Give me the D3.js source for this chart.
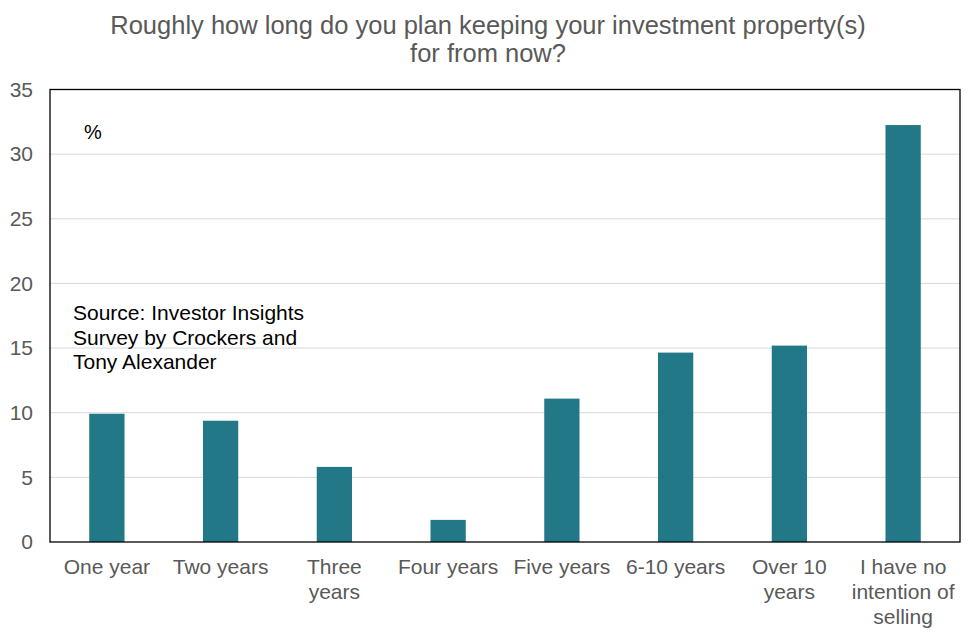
<!DOCTYPE html>
<html><head><meta charset="utf-8">
<script src="https://cdn.jsdelivr.net/npm/d3@7"></script>
<style>body{margin:0;background:#fff}svg{display:block}</style>
</head><body><svg id="c" width="976" height="637"></svg>
<script>
const categories = [["One year"],["Two years"],["Three","years"],["Four years"],["Five years"],["6-10 years"],["Over 10","years"],["I have no","intention of","selling"]];
const values = [9.92, 9.38, 5.81, 1.71, 11.09, 14.65, 15.19, 32.25];
const yTicks = [0,5,10,15,20,25,30,35];
const titleLines = ["Roughly how long do you plan keeping your investment property(s)","for from now?"];
const sourceLines = ["Source: Investor Insights","Survey by Crockers and","Tony Alexander"];

const svg = d3.select("#c");
const font = "Liberation Sans, Arial, sans-serif";
const m = {l:50, r:960, t:89.5, b:542};
const x = d3.scaleBand().domain(d3.range(values.length)).range([m.l, m.r]).paddingInner(0.69).paddingOuter(0.345);
const y = d3.scaleLinear().domain([0,35]).range([m.b, m.t]);

// gridlines
svg.append("g").selectAll("line").data(yTicks.filter(t=>t>0 && t<35)).join("line")
  .attr("x1", m.l).attr("x2", m.r).attr("y1", d=>y(d)).attr("y2", d=>y(d))
  .attr("stroke","#d9d9d9").attr("stroke-width",1);

// bars
svg.append("g").selectAll("rect").data(values).join("rect")
  .attr("x",(d,i)=>x(i)).attr("width",x.bandwidth())
  .attr("y",d=>y(d)).attr("height",d=>y(0)-y(d)).attr("fill","#227886");

// border
svg.append("rect").attr("x",m.l).attr("y",m.t).attr("width",m.r-m.l).attr("height",m.b-m.t)
  .attr("fill","none").attr("stroke","#000").attr("stroke-width",1.3);

// y axis
const ya = svg.append("g").attr("transform",`translate(${m.l},0)`)
  .call(d3.axisLeft(y).tickValues(yTicks).tickSize(0).tickPadding(17));
ya.select(".domain").remove();
ya.selectAll("text").attr("font-family",font).attr("font-size",21).attr("fill","#595959");

// x labels
const xl = svg.append("g").selectAll("text").data(categories).join("text")
  .attr("x",(d,i)=>x(i)+x.bandwidth()/2).attr("y",574)
  .attr("text-anchor","middle").attr("font-family",font).attr("font-size",21).attr("fill","#595959");
xl.selectAll("tspan").data(d=>d).join("tspan")
  .attr("x",function(){return this.parentNode.getAttribute("x");})
  .attr("dy",(d,i)=>i===0?0:25).text(d=>d);

// title
svg.append("text").attr("x",488).attr("y",34).attr("text-anchor","middle")
  .attr("font-family",font).attr("font-size",25.5).attr("fill","#595959")
  .selectAll("tspan").data(titleLines).join("tspan").attr("x",488).attr("dy",(d,i)=>i?28:0).text(d=>d);

// % label
svg.append("text").attr("x",84).attr("y",139).attr("font-family",font).attr("font-size",20).attr("fill","#000").text("%");

// source
svg.append("text").attr("x",73).attr("y",320).attr("font-family",font).attr("font-size",21).attr("fill","#000")
  .selectAll("tspan").data(sourceLines).join("tspan").attr("x",73).attr("dy",(d,i)=>i?24.5:0).text(d=>d);
</script></body></html>
